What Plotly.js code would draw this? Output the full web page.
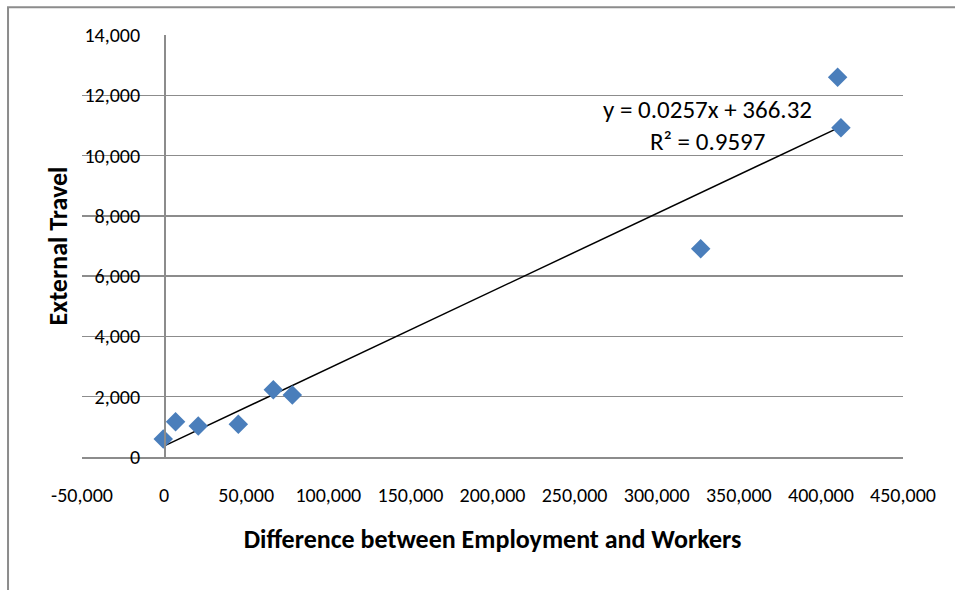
<!DOCTYPE html>
<html>
<head>
<meta charset="utf-8">
<script src="https://cdn.plot.ly/plotly-3.0.1.min.js"></script>
<style>
  html, body { margin: 0; padding: 0; background: #ffffff; }
  #chart { width: 955px; height: 590px; }
</style>
</head>
<body>
<div id="chart"></div>
<script>
// ---- data ----
const diffEmpWorkers = [-500, 7000, 20800, 45200, 66500, 78100, 326800, 410200, 412200];
const externalTravel = [600, 1170, 1030, 1090, 2230, 2060, 6910, 12600, 10920];

const trendSlope = 0.0257;
const trendIntercept = 366.32;
const rSquared = 0.9597;

const xTickVals = [-50000, 0, 50000, 100000, 150000, 200000, 250000, 300000, 350000, 400000, 450000];
const xTickText = ['-50,000', '0', '50,000', '100,000', '150,000', '200,000', '250,000', '300,000', '350,000', '400,000', '450,000'];
const yTickVals = [0, 2000, 4000, 6000, 8000, 10000, 12000, 14000];
const yTickText = ['0', '2,000', '4,000', '6,000', '8,000', '10,000', '12,000', '14,000'];

const xTitle = 'Difference between Employment and Workers';
const yTitle = 'External Travel';

// ---- trend line from equation over the data's x extent ----
const xMin = Math.min(...diffEmpWorkers);
const xMax = Math.max(...diffEmpWorkers);
const trendX = [xMin, xMax];
const trendY = trendX.map(v => trendSlope * v + trendIntercept);

const FONT = 'Carlito, Lato, "Liberation Sans", sans-serif';
const GRID = '#8c8c8c';

const traces = [
  {
    type: 'scatter', mode: 'lines',
    x: trendX, y: trendY,
    line: { color: '#000000', width: 1.5 },
    hoverinfo: 'skip', showlegend: false
  },
  {
    type: 'scatter', mode: 'markers',
    x: diffEmpWorkers, y: externalTravel,
    marker: { symbol: 'diamond', size: 15, color: '#4a7ebb', line: { width: 0 } },
    showlegend: false
  }
];

const layout = {
  width: 955, height: 590,
  margin: { l: 82, r: 52, t: 35, b: 133 },
  paper_bgcolor: '#ffffff', plot_bgcolor: '#ffffff',
  font: { family: FONT, size: 20, color: '#000000' },
  showlegend: false,
  xaxis: {
    range: [-50000, 450000],
    tickmode: 'array', tickvals: xTickVals, ticktext: xTickText,
    showgrid: false, zeroline: false,
    showline: true, linecolor: GRID, linewidth: 1.5,
    ticks: '', ticklabelstandoff: 19,
    tickfont: { family: FONT, size: 20, color: '#000000' },
    title: { text: xTitle, font: { family: FONT, size: 26, color: '#000000', weight: 'bold' }, standoff: 24 }
  },
  yaxis: {
    range: [0, 14000],
    anchor: 'free', position: 0.1,
    tickmode: 'array', tickvals: yTickVals, ticktext: yTickText,
    showgrid: true, gridcolor: GRID, gridwidth: 1.5,
    zeroline: false,
    showline: true, linecolor: GRID, linewidth: 1.5,
    ticks: '', ticklabelstandoff: 20,
    tickfont: { family: FONT, size: 20, color: '#000000' },
    title: { text: yTitle, font: { family: FONT, size: 26, color: '#000000', weight: 'bold' }, standoff: 8 }
  },
  shapes: [
    {
      type: 'rect', xref: 'paper', yref: 'paper',
      x0: -0.0901, x1: 1.1, y0: 1.066, y1: -0.4,
      line: { color: GRID, width: 2 }, fillcolor: 'rgba(0,0,0,0)', layer: 'below'
    }
  ],
  annotations: [
    {
      xref: 'x', yref: 'y', x: 331000, y: 11520,
      text: 'y = ' + trendSlope + 'x + ' + trendIntercept,
      showarrow: false, font: { family: FONT, size: 25, color: '#000000' }
    },
    {
      xref: 'x', yref: 'y', x: 331000, y: 10480,
      text: 'R² = ' + rSquared,
      showarrow: false, font: { family: FONT, size: 25, color: '#000000' }
    }
  ]
};

Plotly.newPlot('chart', traces, layout, { displayModeBar: false, staticPlot: true });
</script>
</body>
</html>
